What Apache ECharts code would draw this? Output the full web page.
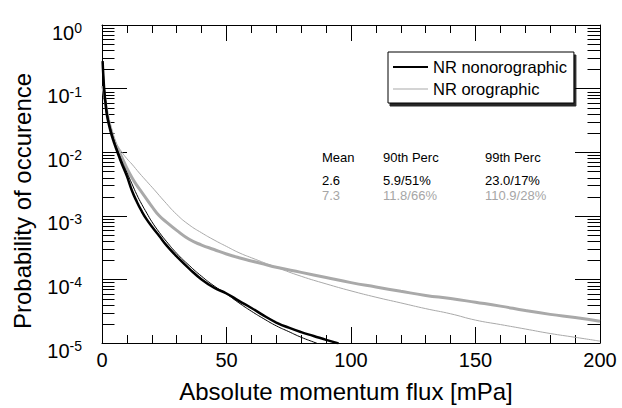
<!DOCTYPE html>
<html>
<head>
<meta charset="utf-8">
<script src="https://cdn.jsdelivr.net/npm/echarts@6/dist/echarts.min.js"></script>
<style>
html,body{margin:0;padding:0;background:#fff;}
#chart{width:622px;height:408px;}
</style>
</head>
<body>
<div id="chart"></div>
<script>
// ---- Data ----
// x: absolute momentum flux [mPa], y: probability of occurrence
const nonoroX   = [0.25, 0.5, 1, 1.5, 2, 3, 4, 5, 6, 8, 10, 12, 14, 16, 18, 20, 23, 26, 30, 35, 40, 45, 50, 55, 60, 65, 70, 75, 80, 85, 90, 95];
const nonoroY   = [0.27, 0.17, 0.085, 0.055, 0.038, 0.025, 0.0178, 0.0135, 0.0105, 0.0065, 0.0042, 0.0025, 0.00166, 0.00117, 8.7e-4, 6.8e-4, 4.8e-4, 3.4e-4, 2.3e-4, 1.48e-4, 1.0e-4, 7.4e-5, 6.0e-5, 4.6e-5, 3.55e-5, 2.7e-5, 2.1e-5, 1.74e-5, 1.48e-5, 1.29e-5, 1.12e-5, 9.8e-6];

const nonoroFitX = [0.5, 1, 2, 3, 4, 5, 6, 8, 10, 12, 14, 16, 18, 20, 23, 26, 30, 35, 40, 45, 50, 55, 60, 65, 70, 75, 80, 86, 90];
const nonoroFitY = [0.2, 0.1, 0.045, 0.028, 0.02, 0.0148, 0.0115, 0.0072, 0.0048, 0.0032, 0.00214, 0.00151, 0.0011, 8.1e-4, 5.5e-4, 3.9e-4, 2.57e-4, 1.66e-4, 1.12e-4, 7.9e-5, 5.9e-5, 4.27e-5, 3.16e-5, 2.4e-5, 1.86e-5, 1.51e-5, 1.23e-5, 1.0e-5, 8.7e-6];

const oroX = [0.25, 0.5, 1, 2, 3, 4, 5, 6, 8, 10, 12, 14, 16, 18, 20, 23, 26, 30, 35, 40, 45, 50, 55, 60, 65, 70, 80, 90, 100, 110, 120, 130, 140, 150, 160, 170, 180, 190, 200];
const oroY = [0.11, 0.1, 0.076, 0.042, 0.028, 0.02, 0.0151, 0.012, 0.0083, 0.0056, 0.004, 0.003, 0.00234, 0.00182, 0.00141, 0.001, 7.9e-4, 5.9e-4, 4.27e-4, 3.47e-4, 2.95e-4, 2.51e-4, 2.19e-4, 1.95e-4, 1.74e-4, 1.55e-4, 1.29e-4, 1.07e-4, 8.9e-5, 7.6e-5, 6.5e-5, 5.6e-5, 5.0e-5, 4.37e-5, 3.8e-5, 3.24e-5, 2.82e-5, 2.51e-5, 2.19e-5];

const oroFitX = [0.5, 1, 2, 3, 4, 5, 6, 8, 10, 12, 15, 18, 21, 25, 30, 35, 40, 45, 50, 55, 60, 70, 80, 90, 100, 110, 120, 130, 140, 150, 160, 170, 180, 190, 200];
const oroFitY = [0.1, 0.068, 0.04, 0.027, 0.02, 0.0158, 0.0132, 0.01, 0.0079, 0.0065, 0.0047, 0.00347, 0.00257, 0.0017, 0.00105, 7.2e-4, 5.4e-4, 4.17e-4, 3.3e-4, 2.63e-4, 2.19e-4, 1.55e-4, 1.12e-4, 8.5e-5, 6.6e-5, 5.25e-5, 4.27e-5, 3.47e-5, 2.88e-5, 2.29e-5, 1.95e-5, 1.66e-5, 1.41e-5, 1.23e-5, 1.07e-5];

const seriesNames = ['NR nonorographic', 'NR orographic'];
const xTickLabels = ['0', '50', '100', '150', '200'];
const yTickExponents = ['-5', '-4', '-3', '-2', '-1', '0'];
const yMinorMultipliers = [2, 3, 4, 5, 6, 7, 8, 9];
const yMinorDecades = [1e-5, 1e-4, 1e-3, 1e-2, 1e-1];
const statHeaders = ['Mean', '90th Perc', '99th Perc'];
const nonoroStats = ['2.6', '5.9/51%', '23.0/17%'];
const oroStats = ['7.3', '11.8/66%', '110.9/28%'];
const xTitle = 'Absolute momentum flux [mPa]';
const yTitle = 'Probability of occurence';

// ---- Build ----
const zip = (xs, ys) => xs.map((x, i) => [x, ys[i]]);
const yMinorTicks = [];
yMinorDecades.forEach(d => yMinorMultipliers.forEach(m => yMinorTicks.push([0, +(m * d).toPrecision(2)])));

const FONT = '"Liberation Sans", Arial, Helvetica, sans-serif';
const GREY = '#a9a9a9';
const TXTGREY = '#a6a6a6';

const chart = echarts.init(document.getElementById('chart'), null, {renderer: 'svg'});

const baseX = {
  type: 'value', min: 0, max: 200, interval: 50,
  axisLine: {show: true, onZero: false, lineStyle: {color: '#000', width: 1}},
  axisTick: {show: true, inside: true, length: 16, lineStyle: {color: '#000'}},
  minorTick: {show: true, splitNumber: 5, length: 8, lineStyle: {color: '#000'}},
  splitLine: {show: false}, minorSplitLine: {show: false}
};
const baseY = {
  type: 'log', logBase: 10, min: 1e-5, max: 1,
  axisLine: {show: true, onZero: false, lineStyle: {color: '#000', width: 1}},
  axisTick: {show: true, inside: true, length: 25, lineStyle: {color: '#000'}},
  splitLine: {show: false}
};

const statX = [322, 383, 485];
const statText = (t, i, y, color) => ({type: 'text', x: statX[i], y: y, silent: true,
  style: {text: t, font: '13px ' + FONT, fill: color, verticalAlign: 'middle'}});

const option = {
  animation: false,
  backgroundColor: '#fff',
  grid: {left: 102, right: 22, top: 25, bottom: 59, containLabel: false},
  xAxis: [
    Object.assign({}, baseX, {
      position: 'bottom',
      axisLabel: {
        show: true, margin: 7, color: '#000', fontSize: 20, fontFamily: FONT,
        formatter: v => xTickLabels[Math.round(v / 50)]
      },
      name: xTitle, nameLocation: 'middle', nameGap: 36,
      nameTextStyle: {color: '#000', fontSize: 24, fontFamily: FONT, padding: [0, 10, 0, 0]}
    }),
    Object.assign({}, baseX, {position: 'top', axisLabel: {show: false}})
  ],
  yAxis: [
    Object.assign({}, baseY, {
      position: 'left',
      axisLabel: {
        show: true, margin: 20, color: '#000', fontFamily: FONT,
        padding: [12, 0, 0, 0],
        formatter: v => '{b|10}{s|' + yTickExponents[Math.round(Math.log10(v)) + 5] + '}',
        rich: {
          b: {fontSize: 20, lineHeight: 20, fontFamily: FONT, color: '#000', padding: [3, 0, 0, 0]},
          s: {fontSize: 14, lineHeight: 14, fontFamily: FONT, color: '#000', verticalAlign: 'top'}
        }
      }
    }),
    Object.assign({}, baseY, {position: 'right', axisLabel: {show: false}})
  ],
  legend: {
    orient: 'vertical', left: 388, top: 52,
    data: [
      {name: seriesNames[0], lineStyle: {width: 2}},
      {name: seriesNames[1], lineStyle: {width: 1}}
    ],
    itemWidth: 35, itemHeight: 14, itemGap: 2,
    itemStyle: {opacity: 0},
    padding: [5, 7, 4, 4],
    backgroundColor: '#fff', borderColor: '#000', borderWidth: 1,
    shadowColor: 'rgba(0,0,0,0.85)', shadowBlur: 0, shadowOffsetX: 2, shadowOffsetY: 3,
    textStyle: {color: '#000', fontSize: 16.5, fontFamily: FONT, lineHeight: 20},
    selectedMode: false
  },
  graphic: [].concat(
    [{type: 'text', x: 22, y: 201, rotation: Math.PI / 2, silent: true,
      style: {text: yTitle, font: '24px ' + FONT, fill: '#000', align: 'center', verticalAlign: 'middle'}}],
    statHeaders.map((t, i) => statText(t, i, 157, '#000')),
    nonoroStats.map((t, i) => statText(t, i, 180, '#000')),
    oroStats.map((t, i) => statText(t, i, 195, TXTGREY))
  ),
  series: [
    {
      type: 'custom', name: 'minor', silent: true, clip: false,
      xAxisIndex: 0, yAxisIndex: 0,
      data: yMinorTicks,
      encode: {x: 0, y: 1},
      renderItem: (params, api) => {
        const v = api.value(1);
        const pL = api.coord([0, v]);
        const pR = api.coord([200, v]);
        const y = Math.round(pL[1]) + 0.5;
        return {type: 'group', children: [
          {type: 'line', shape: {x1: pL[0], y1: y, x2: pL[0] + 12.5, y2: y}, style: {stroke: '#000', lineWidth: 1}},
          {type: 'line', shape: {x1: pR[0] - 12.5, y1: y, x2: pR[0], y2: y}, style: {stroke: '#000', lineWidth: 1}}
        ]};
      }
    },
    {
      type: 'line', name: 'NR orographic fit', data: zip(oroFitX, oroFitY),
      showSymbol: false, symbol: 'none', smooth: true, color: GREY,
      lineStyle: {color: GREY, width: 1}
    },
    {
      type: 'line', name: seriesNames[1], data: zip(oroX, oroY),
      showSymbol: false, symbol: 'none', smooth: true, color: GREY,
      lineStyle: {color: GREY, width: 3}
    },
    {
      type: 'line', name: 'NR nonorographic fit', data: zip(nonoroFitX, nonoroFitY),
      showSymbol: false, symbol: 'none', smooth: true, color: '#000',
      lineStyle: {color: '#000', width: 1}
    },
    {
      type: 'line', name: seriesNames[0], data: zip(nonoroX, nonoroY),
      showSymbol: false, symbol: 'none', smooth: true, color: '#000',
      lineStyle: {color: '#000', width: 2.5}
    }
  ]
};
chart.setOption(option);
</script>
</body>
</html>
